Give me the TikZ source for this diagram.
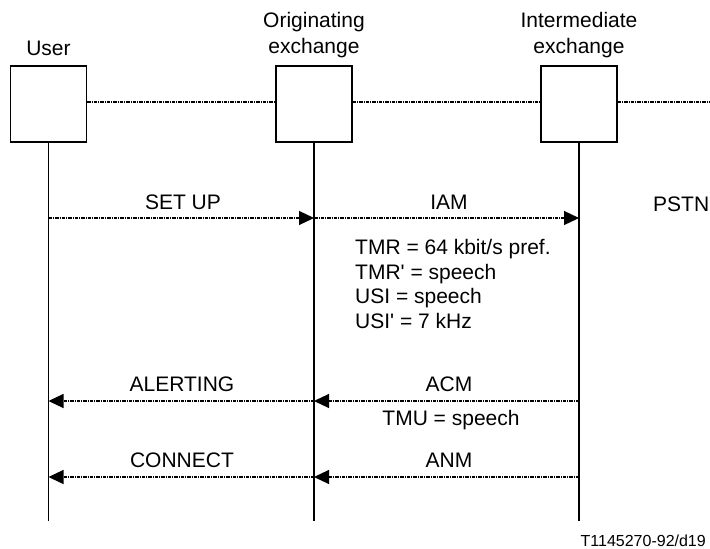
\documentclass[tikz,border=0pt]{standalone}
\usepackage{fontspec}
\setmainfont{Liberation Sans}
\usetikzlibrary{arrows.meta}
\begin{document}
\begin{tikzpicture}[x=1pt,y=-1pt,
  lbl/.style={font=\fontsize{21}{25}\selectfont, inner sep=0pt},
  entity/.style={draw, line width=1.2pt, minimum width=76pt, minimum height=76pt, inner sep=0pt},
  life/.style={line width=1.5pt},
  link/.style={line width=1.2pt, dash pattern=on 3.5pt off 1pt on 1pt off 1pt},
  msg/.style={line width=1.2pt, dash pattern=on 3.5pt off 1pt on 1pt off 1pt, -{Triangle[length=15pt,width=14pt]}}]
\useasboundingbox (0,0) rectangle (710,549);
% headings
\node[lbl] (tu) at (48.5,48) {User};
\node[lbl, align=center, font=\fontsize{21}{26}\selectfont] (to) at (314,35) {Originating\\exchange};
\node[lbl, align=center, font=\fontsize{21}{26}\selectfont] (ti) at (579,35) {Intermediate\\exchange};
% entity boxes
\node[entity] (bu) at (48.5,104) {};
\node[entity] (bo) at (314,104) {};
\node[entity] (bi) at (579,104) {};
\coordinate (edge) at (710,102);
\draw[link] (bu.east |- 0,102) -- (bo.west |- 0,102);
\draw[link] (bo.east |- 0,102) -- (bi.west |- 0,102);
\draw[link] (bi.east |- 0,102) -- (edge);
% lifelines
\coordinate (ue) at (48.5,521);
\coordinate (oe) at (314,521);
\coordinate (ie) at (579,521);
\draw[life] (bu.south) -- (ue);
\draw[life] (bo.south) -- (oe);
\draw[life] (bi.south) -- (ie);
% message points
\coordinate (u1) at (48.5,218); \coordinate (o1) at (314,218); \coordinate (i1) at (579,218);
\coordinate (u2) at (48.5,401); \coordinate (o2) at (314,401); \coordinate (i2) at (579,401);
\coordinate (u3) at (48.5,477); \coordinate (o3) at (314,477); \coordinate (i3) at (579,477);
\draw[msg] (u1) -- (o1);
\draw[msg] (o1) -- (i1);
\draw[msg] (o2) -- (u2);
\draw[msg] (i2) -- (o2);
\draw[msg] (o3) -- (u3);
\draw[msg] (i3) -- (o3);
% labels
\node[lbl] (lsetup) at (183,202) {SET UP};
\node[lbl] (liam) at (449,202) {IAM};
\node[lbl, anchor=west] (lpstn) at (653,204) {PSTN};
\node[lbl, anchor=north west, align=left, font=\fontsize{21}{24.7}\selectfont] (lparams) at (355,239) {TMR = 64 kbit/s pref.\\TMR\textquotesingle{} = speech\\USI = speech\\USI\textquotesingle{} = 7 kHz};
\node[lbl] (lalert) at (182,384) {ALERTING};
\node[lbl] (lacm) at (449,384) {ACM};
\node[lbl] (ltmu) at (451,420) {TMU = speech};
\node[lbl] (lconn) at (182,460) {CONNECT};
\node[lbl] (lanm) at (449,460) {ANM};
\node[lbl, anchor=east, font=\fontsize{16}{19}\selectfont] (lref) at (706,541) {T1145270-92/d19};
\end{tikzpicture}
\end{document}
